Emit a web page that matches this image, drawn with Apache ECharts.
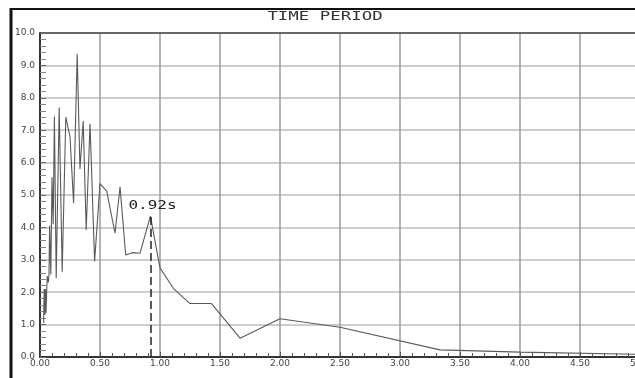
<!DOCTYPE html>
<html>
<head>
<meta charset="utf-8">
<script src="https://cdn.jsdelivr.net/npm/echarts@6/dist/echarts.min.js"></script>
<style>
html,body{margin:0;padding:0;background:#fff;}
#c{width:635px;height:378px;}
</style>
</head>
<body>
<div id="c"></div>
<script>
var titleText = 'TIME PERIOD';
var peakLabel = '0.92s';
var peakPeriod = 0.92;
var peakValue = 4.35;
var periods = [0.03,0.035,0.04,0.045,0.05,0.06,0.07,0.075,0.08,0.09,0.10,0.11,0.12,0.135,0.16,0.185,0.215,0.25,0.28,0.31,0.333,0.36,0.385,0.417,0.455,0.50,0.556,0.625,0.667,0.714,0.769,0.833,0.92,1.00,1.111,1.25,1.429,1.667,2.00,2.50,3.333,4.00,5.00];
var values  = [1.05,2.1,1.3,2.1,1.35,2.5,2.3,2.55,4.05,2.55,5.55,4.1,7.42,2.43,7.7,2.63,7.4,6.8,4.75,9.35,5.8,7.28,3.92,7.2,2.95,5.35,5.12,3.82,5.25,3.15,3.22,3.2,4.35,2.75,2.12,1.65,1.65,0.58,1.18,0.92,0.22,0.15,0.08];

var seriesData = periods.map(function(p,i){return [p, values[i]];});
var chart = echarts.init(document.getElementById('c'), null, {renderer:'canvas'});
var labelFont = 'Verdana, "DejaVu Sans", sans-serif';
var option = {
  animation:false,
  backgroundColor:'#fff',
  grid:{left:40, top:33, right:-5, bottom:21, containLabel:false, outerBoundsMode:'none'},
  xAxis:{
    type:'value', min:0, max:5, interval:0.5,
    axisLine:{show:true, onZero:false, lineStyle:{color:'#333', width:2}},
    axisTick:{show:true, inside:true, length:5, lineStyle:{color:'#555', width:1}},
    minorTick:{show:true, splitNumber:5, length:4, lineStyle:{color:'#555', width:1}},
    splitLine:{show:true, lineStyle:{color:'#9a9a9a', width:1.5}},
    axisLabel:{margin:2, fontSize:9, color:'#444', fontFamily:labelFont,
      formatter:function(v){return v.toFixed(2);}}
  },
  yAxis:{
    type:'value', min:0, max:10, interval:1,
    axisLine:{show:true, lineStyle:{color:'#333', width:2}},
    axisTick:{show:true, inside:true, length:6, lineStyle:{color:'#666', width:1}},
    minorTick:{show:true, splitNumber:5, length:6, lineStyle:{color:'#888', width:1}},
    splitLine:{show:true, lineStyle:{color:'#bdbdbd', width:1.5}},
    axisLabel:{margin:5, fontSize:9, color:'#444', fontFamily:labelFont,
      formatter:function(v){return v.toFixed(1);}}
  },
  series:[{
    type:'line', data:seriesData, showSymbol:false, symbol:'none',
    lineStyle:{color:'#5a5a5a', width:1.1},
    markLine:{
      silent:true, symbol:'none', animation:false,
      label:{show:false},
      lineStyle:{color:'#222', width:1.5, type:[8,4]},
      data:[[{coord:[peakPeriod,0]},{coord:[peakPeriod,peakValue]}]]
    }
  }]
};
chart.setOption(option);
var pk = chart.convertToPixel({gridIndex:0}, [peakPeriod, peakValue]);
chart.setOption({
  graphic:[
    {type:'line', shape:{x1:11, y1:9, x2:640, y2:9}, style:{stroke:'#111', lineWidth:2}},
    {type:'line', shape:{x1:11, y1:8, x2:11, y2:378}, style:{stroke:'#111', lineWidth:3}},
    {type:'line', shape:{x1:40, y1:33, x2:640, y2:33}, style:{stroke:'#444', lineWidth:1.5}},
    {type:'text', x:325, y:17, scaleX:1.45, originX:0, originY:0,
      style:{text:titleText, font:'12px "DejaVu Sans Mono", monospace', fill:'#333', align:'center', verticalAlign:'middle'}},
    {type:'text', x:pk[0]-22, y:pk[1]-10, scaleX:1.23,
      style:{text:peakLabel, font:'13px "DejaVu Sans Mono", monospace', fill:'#222', align:'left', verticalAlign:'middle'}}
  ]
});
</script>
</body>
</html>
